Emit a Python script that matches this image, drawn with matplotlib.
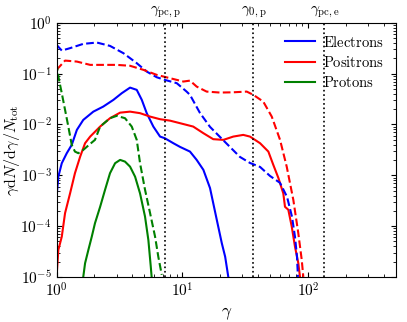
import matplotlib
matplotlib.use('Agg')
import matplotlib.pyplot as plt

plt.rcParams['mathtext.fontset'] = 'cm'
plt.rcParams['font.family'] = 'serif'
plt.rcParams['font.serif'] = ['cmr10', 'DejaVu Serif']
plt.rcParams['axes.formatter.use_mathtext'] = True

# electrons
e_dash_x = [1.0, 1.10, 1.28, 1.63, 2.09, 2.66, 3.40, 4.34, 5.21, 6.26, 7.25, 9.03, 10.8, 11.5,
            13.8, 16.6, 19.9, 23.9, 28.7, 34.5, 41.5, 49.8, 59.8, 68, 74.5, 78.7, 81.6, 83]
e_dash_y = [0.369, 0.285, 0.318, 0.386, 0.41, 0.352, 0.253, 0.161, 0.110, 0.085, 0.0755, 0.065,
            0.0445, 0.0383, 0.0169, 0.00897, 0.0057, 0.00362, 0.0023, 0.00175, 0.00146, 0.00097,
            0.00071, 3.76e-4, 1.52e-4, 6.1e-5, 2.5e-5, 1e-5]
e_sol_x = [1.0, 1.033, 1.10, 1.205, 1.32, 1.45, 1.63, 1.96, 2.35, 2.83, 3.30, 3.84, 4.34, 4.76,
           5.21, 5.88, 6.65, 7.25, 8.48, 9.59, 11.5, 13.0, 14.7, 16.6, 18.8, 20.6, 21.9, 23.2]
e_sol_y = [3.8e-4, 9.4e-4, 0.00173, 0.00272, 0.00397, 0.00783, 0.0123, 0.0179, 0.0225, 0.0305,
           0.0413, 0.0532, 0.048, 0.0305, 0.0167, 0.0091, 0.00578, 0.00537, 0.00428, 0.00362,
           0.00293, 0.00201, 0.00128, 5.6e-4, 1.32e-4, 4.6e-5, 2.5e-5, 1e-5]

# positrons
p_dash_x = [1.0, 1.168, 1.45, 1.85, 2.35, 3.01, 3.84, 4.90, 6.26, 7.98, 10.2, 11.5, 13.0, 15.6,
            19.9, 25.4, 32.5, 36.7, 44.0, 51.4, 59.8, 67.6, 76.3, 83.6, 89, 91.6]
p_dash_y = [0.119, 0.181, 0.173, 0.149, 0.149, 0.149, 0.143, 0.119, 0.0947, 0.0815, 0.070, 0.073,
            0.0557, 0.0444, 0.0425, 0.043, 0.0444, 0.0383, 0.0282, 0.0143, 0.005, 0.00148,
            3.28e-4, 7.2e-5, 2.16e-5, 1e-5]
p_sol_x = [1.0, 1.033, 1.10, 1.168, 1.28, 1.40, 1.54, 1.685, 1.85, 2.22, 2.66, 3.2, 3.84, 4.61,
           5.54, 6.65, 7.98, 9.59, 12.2, 14.7, 17.6, 21.2, 25.4, 30.5, 34.5, 41.5, 48.3, 52.9,
           58, 63.5, 65.5, 69.6, 74.1, 78.7, 83.6, 86.2]
p_sol_y = [1e-5, 3.4e-5, 6.2e-5, 1.8e-4, 4.4e-4, 0.0011, 0.00233, 0.00428, 0.00578, 0.0091,
           0.0133, 0.0171, 0.0179, 0.0167, 0.0143, 0.0127, 0.0119, 0.0106, 0.0091, 0.00674,
           0.00514, 0.00498, 0.00578, 0.00624, 0.00578, 0.00428, 0.00293, 0.0016, 8.9e-4,
           4.4e-4, 2.4e-4, 2.1e-4, 9.8e-5, 3.9e-5, 1.86e-5, 1e-5]

# protons
i_dash_x = [1.0, 1.033, 1.10, 1.168, 1.24, 1.32, 1.40, 1.49, 1.63, 1.85, 2.02, 2.22, 2.66, 3.01,
            3.5, 3.96, 4.34, 4.61, 5.05, 5.54, 6.07, 6.44, 6.86]
i_dash_y = [0.163, 0.0877, 0.0413, 0.0194, 0.0091, 0.00397, 0.00293, 0.00272, 0.00316, 0.00415,
            0.00498, 0.0091, 0.0133, 0.0148, 0.0133, 0.0091, 0.00498, 0.00173, 5.2e-4, 1.8e-4,
            6.2e-5, 2.5e-5, 1.1e-5]
i_sol_x = [1.63, 1.685, 1.79, 1.905, 2.02, 2.22, 2.43, 2.66, 2.92, 3.2, 3.5, 3.84, 4.21, 4.61,
           5.05, 5.37, 5.61, 5.7]
i_sol_y = [1e-5, 1.86e-5, 3.4e-5, 6.2e-5, 1.14e-4, 2.4e-4, 5.2e-4, 0.0011, 0.00173, 0.00201,
           0.00186, 0.00148, 9.4e-4, 4.4e-4, 1.54e-4, 5.3e-5, 1.6e-5, 1e-5]

vlines = [7.3, 36.7, 135]
vlabels = [r'$\gamma_{\rm pc,p}$', r'$\gamma_{0,\rm p}$', r'$\gamma_{\rm pc,e}$']

fig = plt.figure(figsize=(4.07, 3.22), dpi=100)
ax = fig.add_axes([0.139, 0.140, 0.834, 0.789])

ax.plot(e_sol_x, e_sol_y, color='b', lw=1.5, label=r'$\rm Electrons$')
ax.plot(p_sol_x, p_sol_y, color='r', lw=1.5, label=r'$\rm Positrons$')
ax.plot(i_sol_x, i_sol_y, color='g', lw=1.5, label=r'$\rm Protons$')
ax.plot(e_dash_x, e_dash_y, color='b', lw=1.5, ls='--')
ax.plot(p_dash_x, p_dash_y, color='r', lw=1.5, ls='--')
ax.plot(i_dash_x, i_dash_y, color='g', lw=1.5, ls='--')

for v, s in zip(vlines, vlabels):
    ax.axvline(v, color='k', ls=':', lw=1.2)
    ax.text(v, 1.012, s, transform=ax.get_xaxis_transform(), ha='center', va='bottom', fontsize=11)

ax.set_xscale('log')
ax.set_yscale('log')
ax.set_xlim(1, 500)
ax.set_ylim(1e-5, 1)
ax.tick_params(which='both', direction='in', top=True, right=True, labelsize=11)
ax.set_xlabel(r'$\gamma$', fontsize=12.5)
ax.set_ylabel(r'$\gamma {\rm d}N/{\rm d}\gamma/N_{\rm tot}$', fontsize=11.5)
ax.yaxis.set_label_coords(-0.102, 0.5)
ax.legend(loc='upper right', frameon=False, fontsize=10.5, labelspacing=0.35,
          handlelength=2.0, handletextpad=0.6, borderaxespad=0.4)

plt.savefig('out.png', dpi=100)
